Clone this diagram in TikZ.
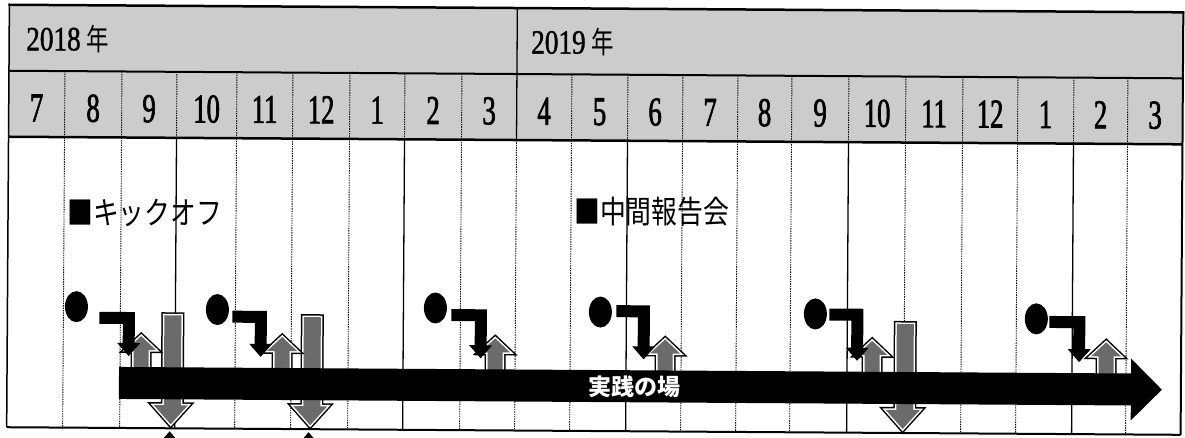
\documentclass[tikz,border=0pt]{standalone}
\usepackage{fontspec}
\usetikzlibrary{shapes.geometric}
\newfontfamily\monthfont[FakeStretch=0.65,FakeBold=1.6]{Liberation Serif}
\newfontfamily\yearfont[FakeStretch=0.8,FakeBold=1.2]{Liberation Serif}
\newfontfamily\jpyear[FakeStretch=0.75]{Noto Sans CJK JP}
\newfontfamily\jplabel[FakeStretch=0.82]{Noto Sans CJK JP}
\newfontfamily\jpbar{Noto Sans CJK JP}
\definecolor{hdrgray}{gray}{0.80}
\definecolor{arrgray}{gray}{0.42}
\newcommand\bentarr[3]{%
  \fill[black] (#1,{#3-6}) -- ({#2+6},{#3-6}) -- ({#2+6},346) -- ({#2+11.5},346) -- (#2,359)
    -- ({#2-11.5},346) -- ({#2-6},346) -- ({#2-6},{#3+6}) -- (#1,{#3+6}) -- cycle;}
\newcommand\uparr[1]{%
  \path[blk] (#1,339) -- ({#1+15},353) -- ({#1+7.5},353) -- ({#1+7.5},376) -- ({#1-7.5},376)
    -- ({#1-7.5},353) -- ({#1-15},353) -- cycle;}
\newcommand\dnarr[3]{%
  \path[blk] ({#1-8.5},#2) -- ({#1+8.5},#2) -- ({#1+8.5},408) -- ({#3+17},408) -- (#3,427)
    -- ({#3-17},408) -- ({#1-8.5},408) -- cycle;}
\begin{document}
\begin{tikzpicture}[x=1pt,y=-1pt,
  dotline/.style={line width=0.9pt, dash pattern=on 1.4pt off 1pt},
  solidline/.style={line width=1.3pt},
  frameline/.style={line width=2pt},
  month/.style={anchor=base, inner sep=0pt, font=\monthfont\fontsize{41}{41}\selectfont},
  year/.style={anchor=base west, inner sep=0pt, font=\yearfont\fontsize{34}{34}\selectfont},
  jplab/.style={anchor=west, inner sep=0pt, font=\jplabel\fontsize{31.5}{31.5}\selectfont},
  dot/.style={ellipse, fill=black, minimum width=23pt, minimum height=31pt, inner sep=0pt},
  blk/.style={preaction={draw=black, line width=6pt, line join=miter},
              preaction={draw=white, line width=3pt, line join=miter}, fill=arrgray}]
\useasboundingbox (0,0) rectangle (1185,437);
\fill[white] (0,0) rectangle (1185,437);
\begin{scope}[rotate around={-0.37:(592,218)}]
% header background
\fill[hdrgray] (8,8.5) rectangle (1182,140.5);
% header month dividers
\foreach \x in {64,121,176,236,292,349,404,461,571,627,682,737,791,848,905,962,1017,1073,1127}
  \draw[dotline] (\x,74.5) -- (\x,140.5);
\draw[solidline] (516,8.5) -- (516,140.5);
% body lines
\foreach \x in {64,121,236,292,349,461,516,571,682,737,791,905,962,1017,1127}
  \draw[dotline] (\x,140.5) -- (\x,431);
\foreach \x in {176,404,627,848,1073}
  \draw[solidline] (\x,140.5) -- (\x,431);
% frame
\draw[line width=2.5pt] (7,8.5) -- (1183,8.5);
\draw[frameline] (8,74.5) -- (1182,74.5);
\draw[line width=2.5pt] (8,140.5) -- (1182,140.5);
\draw[line width=1.5pt] (8,8.5) -- (8,431);
\draw[frameline] (1182,8.5) -- (1182,431);
% header texts
\node[year] (y2018) at (25,54) {2018\,{\jpyear\fontsize{30}{30}\selectfont 年}};
\node[year] (y2019) at (530,54) {2019\,{\jpyear\fontsize{30}{30}\selectfont 年}};
\foreach \a/\b/\m [count=\i] in {8/64/7,64/121/8,121/176/9,176/236/10,236/292/11,292/349/12,349/404/1,404/461/2,461/516/3,516/571/4,571/627/5,627/682/6,682/737/7,737/791/8,791/848/9,848/905/10,905/962/11,962/1017/12,1017/1073/1,1073/1127/2,1127/1182/3}
  \node[month] (m\i) at ({(\a+\b)/2},125) {\m};
% milestone labels
\node[jplab] (kick) at (67,216) {■キックオフ};
\node[jplab] (mid) at (574,212) {■中間報告会};
% event dots
\node[dot] (c1) at (77,310) {};
\node[dot] (c2) at (218,312) {};
\node[dot] (c3) at (436,309) {};
\node[dot] (c4) at (601,312) {};
\node[dot] (c5) at (816,312.5) {};
\node[dot] (c6) at (1037,316) {};
% block arrows
\dnarr{173.5}{318}{172}
\dnarr{313}{319}{311.5}
\dnarr{906}{322}{904}
\uparr{142}
\uparr{283}
\uparr{496}
\uparr{666}
\uparr{873}
\uparr{1107}
% bent arrows
\bentarr{100}{129.5}{321}
\bentarr{233}{261.5}{319}
\bentarr{452}{481.5}{316}
\bentarr{617}{644.5}{311}
\bentarr{830}{858}{313}
\bentarr{1050}{1080}{319}
% main bar
\fill[black] (120,370) -- (1132,370) -- (1132,355) -- (1163,386) -- (1132,417) -- (1132,402) -- (120,402) -- cycle;
\node[text=white, inner sep=0pt, font=\jpbar\bfseries\fontsize{23}{23}\selectfont] (bar) at (636,386) {実践の場};
% bottom frame
\draw[frameline] (8,431) -- (1182,431);
% cut-off tips below frame
\fill[black] (171,434) -- (177,441) -- (165,441) -- cycle;
\fill[black] (310,434) -- (316,441) -- (304,441) -- cycle;
\end{scope}
\end{tikzpicture}
\end{document}
